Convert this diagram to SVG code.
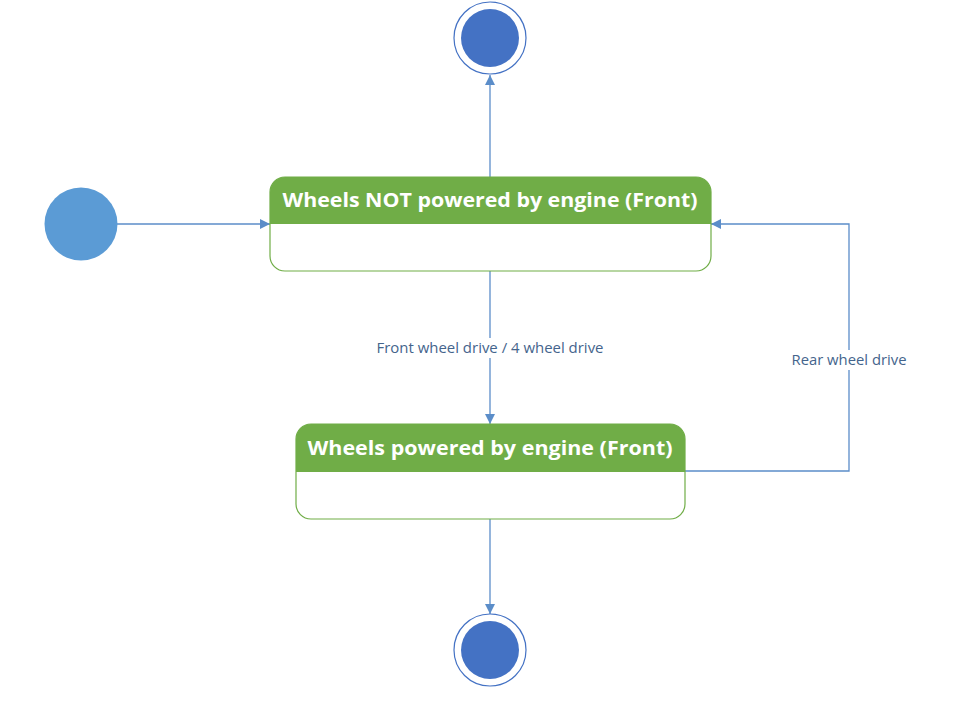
<svg xmlns="http://www.w3.org/2000/svg" width="978" height="712" viewBox="0 0 978 712">
<style>
.conn{fill:none;stroke:#5B8DC9;stroke-width:1.3}
.lbl{font-family:"Open Sans","Liberation Sans",sans-serif;font-size:14px;fill:#44648C;text-anchor:middle}
.title{font-family:"Open Sans","Liberation Sans",sans-serif;font-size:20px;font-weight:bold;fill:#FFFFFF;text-anchor:middle}
.box{fill:#FFFFFF;stroke:#70AD47;stroke-width:1.2}
.hdr{fill:#70AD47}
.fin-ring{fill:#FFFFFF;stroke:#4472C4;stroke-width:1.2}
.fin-dot{fill:#4472C4}
</style>
<defs>
<marker id="arr" viewBox="0 0 10 10" refX="10" refY="5" markerWidth="10" markerHeight="10" markerUnits="userSpaceOnUse" orient="auto">
<path d="M0,0 L10,5 L0,10 Z" fill="#5B8DC9"/>
</marker>
</defs>
<rect width="978" height="712" fill="#FFFFFF"/>
<g id="connectors">
<line class="conn" x1="117" y1="224" x2="270" y2="224" marker-end="url(#arr)"/>
<line class="conn" x1="490" y1="177" x2="490" y2="75" marker-end="url(#arr)"/>
<line class="conn" x1="490" y1="271" x2="490" y2="424" marker-end="url(#arr)"/>
<polyline class="conn" points="685,471 849,471 849,224 711,224" marker-end="url(#arr)"/>
<line class="conn" x1="490" y1="519" x2="490" y2="614" marker-end="url(#arr)"/>
<rect x="370" y="338" width="240" height="20" fill="#FFFFFF"/>
<text class="lbl" x="490" y="353" textLength="227" lengthAdjust="spacingAndGlyphs">Front wheel drive / 4 wheel drive</text>
<rect x="789" y="350" width="120" height="20" fill="#FFFFFF"/>
<text class="lbl" x="849" y="365" textLength="115" lengthAdjust="spacingAndGlyphs">Rear wheel drive</text>
</g>
<g id="initial">
<circle cx="81" cy="224" r="36.5" fill="#5B9BD5"/>
</g>
<g id="final-top">
<circle class="fin-ring" cx="490" cy="38" r="36"/>
<circle class="fin-dot" cx="490" cy="38" r="29"/>
</g>
<g id="final-bottom">
<circle class="fin-ring" cx="490" cy="650" r="36"/>
<circle class="fin-dot" cx="490" cy="650" r="29"/>
</g>
<g id="state-not-powered">
<rect class="box" x="270" y="177" width="441" height="94" rx="15" ry="15"/>
<path class="hdr" d="M270,224 L270,192 A15,15 0 0 1 285,177 L696,177 A15,15 0 0 1 711,192 L711,224 Z"/>
<text class="title" x="490" y="207" textLength="415" lengthAdjust="spacingAndGlyphs">Wheels NOT powered by engine (Front)</text>
</g>
<g id="state-powered">
<rect class="box" x="296" y="424" width="389" height="95" rx="15" ry="15"/>
<path class="hdr" d="M296,472 L296,439 A15,15 0 0 1 311,424 L670,424 A15,15 0 0 1 685,439 L685,472 Z"/>
<text class="title" x="490" y="455" textLength="365" lengthAdjust="spacingAndGlyphs">Wheels powered by engine (Front)</text>
</g>
</svg>
